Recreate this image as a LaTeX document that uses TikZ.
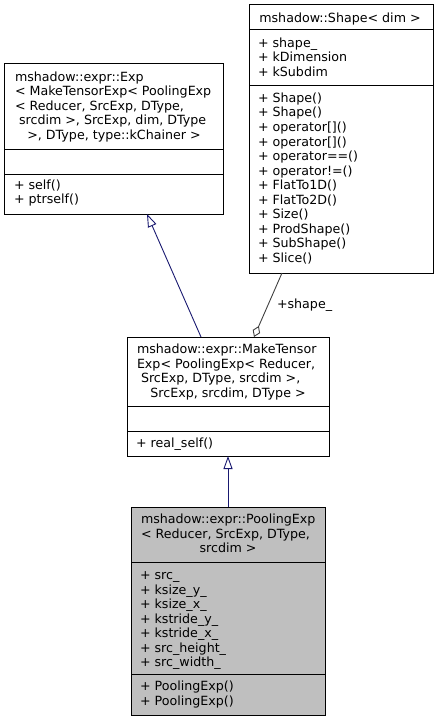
\documentclass[tikz,border=0pt]{standalone}
\usepackage{fontspec}
\setmainfont{DejaVu Sans}
\usetikzlibrary{arrows.meta,calc}
\definecolor{edgeblue}{HTML}{191970}
\definecolor{edgegray}{HTML}{404040}
\definecolor{curfill}{HTML}{BFBFBF}
\begin{document}
\begin{tikzpicture}[x=1bp,y=-1bp,
  box/.style={draw=black, line width=1bp, rectangle, inner sep=0pt, outer sep=0pt},
  sect/.style={draw=black, line width=1bp},
  txt/.style={inner sep=0pt, outer sep=0pt, font=\fontsize{12.65bp}{14.5bp}\selectfont},
  inh/.style={draw=edgeblue, line width=0.9bp, -{Triangle[open,length=13bp,width=9bp]}},
  comp/.style={draw=edgegray, line width=0.9bp, -{Diamond[open,length=12bp,width=8bp]}}
]
\useasboundingbox (0,0) rectangle (439,721);

% ---- boxes ----
\node[box, minimum width=218bp, minimum height=150bp] (exp) at (114,139) {};
\node[box, minimum width=184bp, minimum height=268bp] (shape) at (341,139) {};
\node[box, minimum width=202bp, minimum height=119bp] (mt) at (228,396.5) {};
\node[box, fill=curfill, minimum width=194bp, minimum height=208bp] (pool) at (228,611) {};

% ---- section lines ----
\draw[sect] (exp.west |- 0,149) -- (exp.east |- 0,149);
\draw[sect] (exp.west |- 0,174) -- (exp.east |- 0,174);
\draw[sect] (shape.west |- 0,30) -- (shape.east |- 0,30);
\draw[sect] (shape.west |- 0,86) -- (shape.east |- 0,86);
\draw[sect] (mt.west |- 0,406) -- (mt.east |- 0,406);
\draw[sect] (mt.west |- 0,431) -- (mt.east |- 0,431);
\draw[sect] (pool.west |- 0,562) -- (pool.east |- 0,562);
\draw[sect] (pool.west |- 0,674) -- (pool.east |- 0,674);

% ---- Exp texts ----
\foreach \t [count=\i from 0] in {mshadow::expr::Exp, {< MakeTensorExp< PoolingExp}, {< Reducer, SrcExp, DType,}, {\ srcdim >, SrcExp, dim, DType}}
  \node[txt, anchor=base west] (expt\i) at (15,81.5+14.5*\i) {\t};
\node[txt, anchor=base] (expt4) at (114,139.5) {>, DType, type::kChainer >};
\foreach \t [count=\i from 0] in {+ self(), + ptrself()}
  \node[txt, anchor=base west] (expm\i) at (14,189+14.5*\i) {\t};

% ---- Shape texts ----
\node[txt, anchor=base] (shapet) at (340,22.5) {mshadow::Shape< dim >};
\foreach \t [count=\i from 0] in {+ shape\_, + kDimension, + kSubdim}
  \node[txt, anchor=base west] (shapea\i) at (258,47.5+14.5*\i) {\t};
\foreach \t [count=\i from 0] in {+ Shape(), + Shape(), + operator[](), + operator[](), + operator==(), + operator!=(), + FlatTo1D(), + FlatTo2D(), + Size(), + ProdShape(), + SubShape(), + Slice()}
  \node[txt, anchor=base west] (shapem\i) at (258,102.5+14.5*\i) {\t};

% ---- MakeTensorExp texts ----
\foreach \t [count=\i from 0] in {mshadow::expr::MakeTensor, {Exp< PoolingExp< Reducer,}, {\ SrcExp, DType, srcdim >,}}
  \node[txt, anchor=base west] (mtt\i) at (137,353.5+14.5*\i) {\t};
\node[txt, anchor=base] (mtt3) at (228,397) {SrcExp, srcdim, DType >};
\node[txt, anchor=base west] (mtm0) at (136,447.5) {+ real\_self()};

% ---- PoolingExp texts ----
\foreach \t [count=\i from 0] in {mshadow::expr::PoolingExp, {< Reducer, SrcExp, DType,}}
  \node[txt, anchor=base west] (poolt\i) at (141,523.5+14.5*\i) {\t};
\node[txt, anchor=base] (poolt2) at (228,552.5) {srcdim >};
\foreach \t [count=\i from 0] in {+ src\_, + ksize\_y\_, + ksize\_x\_, + kstride\_y\_, + kstride\_x\_, + src\_height\_, + src\_width\_}
  \node[txt, anchor=base west] (poola\i) at (140,579.5+14.5*\i) {\t};
\foreach \t [count=\i from 0] in {+ PoolingExp(), + PoolingExp()}
  \node[txt, anchor=base west] (poolm\i) at (140,690.5+14.5*\i) {\t};

% ---- connectors ----
\draw[inh] ($(mt.north)+(-27,0)$) -- ($(exp.south)+(33,0)$);
\draw[inh] (pool.north) -- (mt.south);
\draw[comp] ($(shape.south)+(-59,0)$) -- ($(mt.north)+(26,0)$);
\node[txt, anchor=base west] (lbl) at (277,308.5) {+shape\_};
\end{tikzpicture}
\end{document}
